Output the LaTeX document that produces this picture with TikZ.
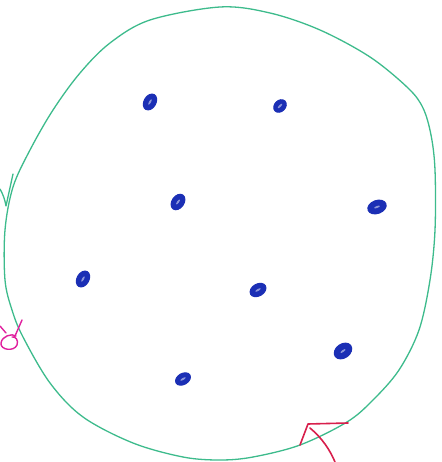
\documentclass[tikz,border=0pt]{standalone}
\usetikzlibrary{shapes.geometric}
\begin{document}
\begin{tikzpicture}[x=1pt,y=-1pt,
  dot/.style={ellipse,fill=dotblue,draw=dotblue,line width=1pt,inner sep=0pt},
  edge/.style={draw=circgreen,line width=1.3pt,line cap=round,line join=round}]
\definecolor{circgreen}{HTML}{3DBB8C}
\definecolor{dotblue}{HTML}{1B2FB5}
\definecolor{markpink}{HTML}{E0209E}
\definecolor{markred}{HTML}{D81F4C}
\useasboundingbox[fill=white] (0,0) rectangle (441,462);
% circle
\draw[edge] plot[smooth cycle,tension=0.55] coordinates {
 (220,7) (270,13) (320,30) (370,57) (408,88) (423,108) (431,135) (435,170)
 (435,230) (430,280) (419,330) (399,370) (373,400) (347,422) (300,445)
 (253,457) (220,460) (183,457) (133,443) (83,417) (50,383) (23,337)
 (12,310) (5,280) (5,230) (13,187) (30,150) (53,110) (80,73) (110,43) (150,20)};
% side marks
\draw[edge] (0,189) .. controls (3,194) and (5,200) .. (6,206) -- (13,174);
\draw[draw=markpink,line width=1.4pt,line cap=round,line join=round]
  (22,320) -- (15,336)
  (0,326) -- (6,333)
  (16,336) .. controls (12,333) and (2,336) .. (1,343) .. controls (0,350) and (14,352) .. (17,345) .. controls (19,340) and (15,336) .. (12,337);
\draw[draw=markred,line width=1.6pt,line cap=round,line join=round]
  (300,445) -- (308,424) -- (348,423)
  (310,428) .. controls (322,438) and (330,450) .. (335,462);
% dots
\foreach \n/\x/\y/\r/\w/\h in {a/150/102/60/17/12,b/280/106/45/14/11,c/178/202/55/17/12,
  d/377/207/20/19/13,e/83/279/60/17/12,f/258/290/30/17/12,g/343/351/35/19/14,h/183/379/30/16/11}{
  \node[dot,minimum width=\w pt,minimum height=\h pt,rotate=\r] (\n) at (\x,\y) {};
  \fill[white,opacity=0.5,rotate around={\r:(\x,\y)}] (\x,\y) ellipse (3pt and 1pt);
}
\end{tikzpicture}
\end{document}
